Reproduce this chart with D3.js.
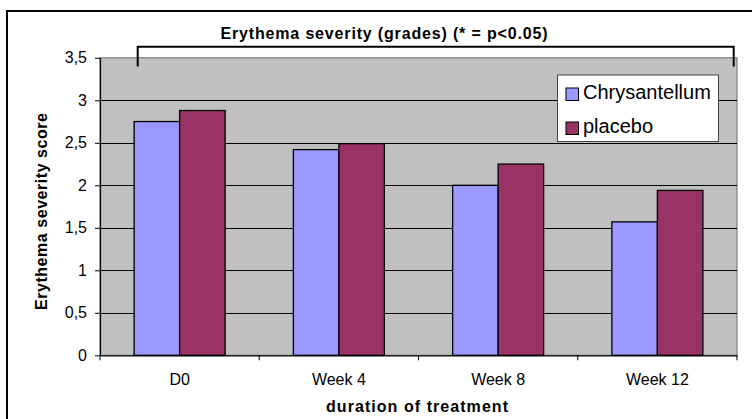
<!DOCTYPE html>
<html>
<head>
<meta charset="utf-8">
<script src="https://cdn.jsdelivr.net/npm/d3@7"></script>
<style>
  html, body { margin: 0; padding: 0; background: #fff; }
  svg { display: block; font-family: "Liberation Sans", Arial, sans-serif; }
</style>
</head>
<body>
<svg id="chart" width="752" height="419"></svg>
<script>
// ---- data ----
const categories = ["D0", "Week 4", "Week 8", "Week 12"];
const seriesNames = ["Chrysantellum", "placebo"];
const chrysantellum = [2.75, 2.42, 2.0, 1.57];
const placebo = [2.88, 2.49, 2.25, 1.94];
const yTicks = [0, 0.5, 1, 1.5, 2, 2.5, 3, 3.5];
const yTickLabels = ["0", "0,5", "1", "1,5", "2", "2,5", "3", "3,5"];
const title = "Erythema severity (grades) (* = p<0.05)";
const yTitle = "Erythema severity score";
const xTitle = "duration of treatment";
const colors = ["#9999FF", "#993366"];

const seriesValues = [chrysantellum, placebo];

// ---- layout ----
const svg = d3.select("#chart");
const plot = { left: 100, right: 737, top: 57.8, bottom: 355.3 };
const FONT = "Liberation Sans, Arial, sans-serif";

// outer frame
svg.append("rect")
  .attr("x", 7).attr("y", 11).attr("width", 760).attr("height", 420)
  .attr("fill", "#fff").attr("stroke", "#000").attr("stroke-width", 2);

const x = d3.scaleBand().domain(categories).range([plot.left, plot.right]).padding(0);
const xInner = d3.scaleBand().domain(seriesNames).range([0, x.bandwidth()])
  .paddingInner(0).paddingOuter(0.75);
const y = d3.scaleLinear().domain([0, 3.5]).range([plot.bottom, plot.top]);

// plot area background
svg.append("rect")
  .attr("x", plot.left).attr("y", plot.top)
  .attr("width", plot.right - plot.left).attr("height", plot.bottom - plot.top)
  .attr("fill", "#C0C0C0").attr("stroke", "#808080").attr("stroke-width", 1.2);

// gridlines
svg.append("g").selectAll("line")
  .data(yTicks.filter(v => v > 0 && v < 3.5))
  .join("line")
  .attr("x1", plot.left).attr("x2", plot.right)
  .attr("y1", d => Math.round(y(d)) + 0.5).attr("y2", d => Math.round(y(d)) + 0.5)
  .attr("stroke", "#000").attr("stroke-width", 1);

// bars
const groups = svg.append("g").selectAll("g")
  .data(categories)
  .join("g")
  .attr("transform", d => `translate(${x(d)},0)`);

groups.selectAll("rect")
  .data((c, i) => seriesNames.map((s, j) => ({ s, j, v: seriesValues[j][i] })))
  .join("rect")
  .attr("x", d => xInner(d.s))
  .attr("y", d => y(d.v))
  .attr("width", xInner.bandwidth())
  .attr("height", d => y(0) - y(d.v))
  .attr("fill", d => colors[d.j])
  .attr("stroke", "#000").attr("stroke-width", 1.3);

// y axis
const yAxis = d3.axisLeft(y).tickValues(yTicks)
  .tickFormat((d, i) => yTickLabels[i]).tickSizeInner(5).tickSizeOuter(0).tickPadding(8);
const gy = svg.append("g").attr("transform", `translate(${plot.left},0)`).call(yAxis);
gy.select(".domain").attr("stroke", "#000").attr("stroke-width", 1.2);
gy.selectAll("line").attr("stroke", "#000");
gy.selectAll("text").attr("font-size", 16).attr("fill", "#000")
  .attr("font-family", FONT);

// x axis
const xAxis = d3.axisBottom(x).tickSize(0).tickPadding(18);
const gx = svg.append("g").attr("transform", `translate(0,${plot.bottom})`).call(xAxis);
gx.select(".domain").attr("stroke", "#000").attr("stroke-width", 1.2);
gx.selectAll("text").attr("font-size", 16).attr("fill", "#000")
  .attr("font-family", FONT);
// category boundary ticks
svg.append("g").selectAll("line")
  .data(categories.map(c => x(c)).concat([x(categories[categories.length - 1]) + x.bandwidth()]))
  .join("line")
  .attr("x1", d => d).attr("x2", d => d)
  .attr("y1", plot.bottom).attr("y2", plot.bottom + 5)
  .attr("stroke", "#000");

// title
svg.append("text")
  .attr("x", 220.5).attr("y", 38.5)
  .attr("font-size", 16).attr("font-weight", "bold")
  .attr("textLength", 327).attr("lengthAdjust", "spacing")
  .text(title);

// bracket
svg.append("path")
  .attr("d", "M137.7,66.5 V46.7 H733.7 V66.5")
  .attr("fill", "none").attr("stroke", "#000").attr("stroke-width", 2);

// axis titles
svg.append("text")
  .attr("transform", `translate(47,310) rotate(-90)`)
  .attr("font-size", 16).attr("font-weight", "bold")
  .attr("textLength", 197).attr("lengthAdjust", "spacing")
  .text(yTitle);

svg.append("text")
  .attr("x", 326).attr("y", 412)
  .attr("font-size", 16).attr("font-weight", "bold")
  .attr("textLength", 182).attr("lengthAdjust", "spacing")
  .text(xTitle);

// legend
const lg = svg.append("g");
lg.append("rect")
  .attr("x", 557.5).attr("y", 75).attr("width", 161).attr("height", 66.5)
  .attr("fill", "#fff").attr("stroke", "#444").attr("stroke-width", 1);
const items = lg.selectAll("g.item")
  .data(seriesNames)
  .join("g").attr("class", "item")
  .attr("transform", (d, i) => `translate(566,${88 + i * 34})`);
items.append("rect")
  .attr("width", 12.5).attr("height", 12.5)
  .attr("fill", (d, i) => colors[i]).attr("stroke", "#000").attr("stroke-width", 1);
items.append("text")
  .attr("x", 17).attr("y", 11)
  .attr("font-size", 20)
  .text(d => d);
</script>
</body>
</html>
